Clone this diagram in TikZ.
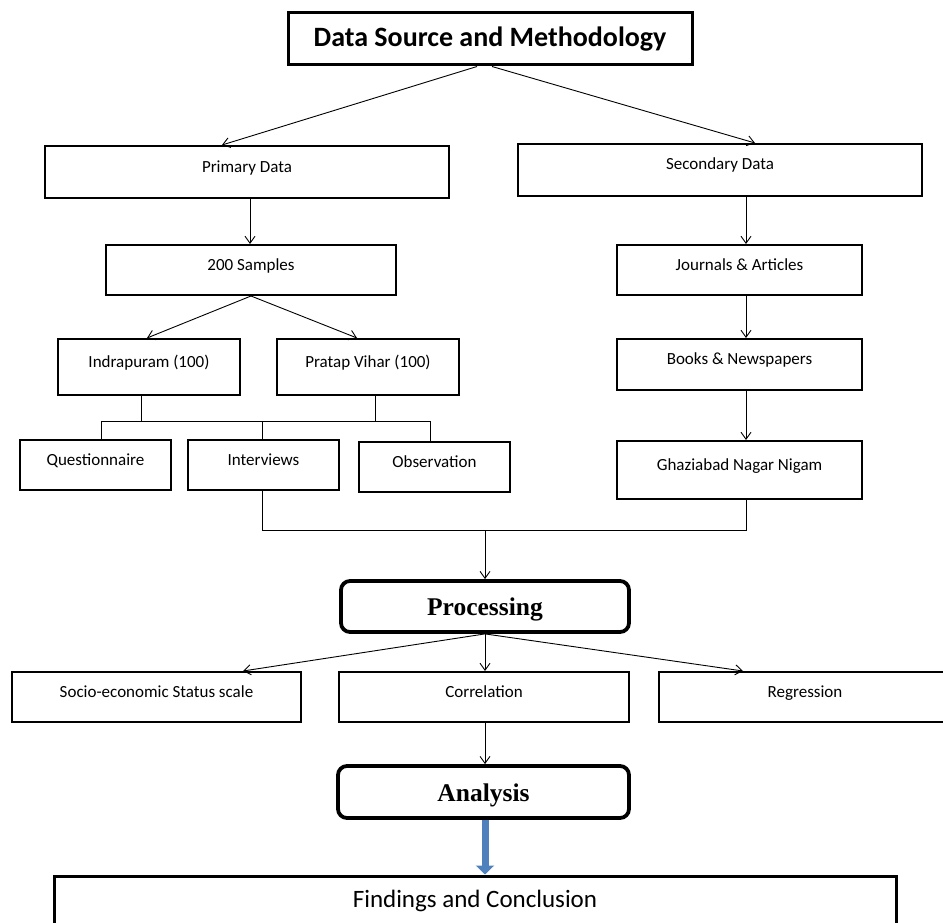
\documentclass[tikz,border=0pt]{standalone}
\usepackage{fontspec}
\setmainfont{Carlito}
\newfontfamily\timesbold{Liberation Serif}
\usepackage{tikz}
\usetikzlibrary{arrows.meta}
\definecolor{arrowblue}{RGB}{79,129,189}

\begin{document}
\begin{tikzpicture}[x=1pt,y=-1pt,
    >={Straight Barb[length=7pt,width=10pt]},
    every node/.style={font=\fontsize{17}{20}\selectfont,inner sep=3pt},
    box/.style={draw,line width=2pt,text height=12pt,text depth=12pt},
    head/.style={draw,line width=3pt,font=\fontsize{28}{32}\selectfont\bfseries},
    stage/.style={draw,line width=3.8pt,rounded corners=9pt,text height=19pt,text depth=1pt,
      font=\fontsize{25.5}{30}\selectfont\timesbold\bfseries},
    link/.style={line width=0.9pt}]
    \useasboundingbox (0,0) rectangle (943,923);
    \clip (0,0) rectangle (943,923);
    % top
    \node[head,minimum width=404pt,minimum height=52pt] (title) at (490,39) {Data Source and Methodology};
    \node[box,minimum width=404pt,minimum height=52pt] (primary) at (247,172) {Primary Data};
    \node[box,minimum width=404pt,minimum height=52pt] (secondary) at (720,170) {Secondary Data};
    % primary side
    \node[box,minimum width=290pt,minimum height=50pt] (samples) at (251,270) {200 Samples};
    \node[box,minimum width=182pt,minimum height=56pt] (indra) at (149,367) {Indrapuram (100)};
    \node[box,minimum width=182pt,minimum height=56pt] (pratap) at (368,367) {Pratap Vihar (100)};
    \node[box,minimum width=151pt,minimum height=50pt] (quest) at (95.5,465) {Questionnaire};
    \node[box,minimum width=151pt,minimum height=50pt] (interv) at (263.5,465) {Interviews};
    \node[box,minimum width=151pt,minimum height=50pt] (observ) at (434.5,467) {Observation};
    % secondary side
    \node[box,minimum width=245pt,minimum height=50pt] (journals) at (739.5,270) {Journals \& Articles};
    \node[box,minimum width=245pt,minimum height=51pt] (books) at (739.5,364.5) {Books \& Newspapers};
    \node[box,minimum width=245pt,minimum height=58pt] (ghazi) at (739.5,470) {Ghaziabad Nagar Nigam};
    % processing and after
    \node[stage,minimum width=288pt,minimum height=51pt] (proc) at (485,606.5) {Processing};
    \node[box,minimum width=289pt,minimum height=50pt] (socio) at (156.5,697) {Socio-economic Status scale};
    \node[box,minimum width=290pt,minimum height=50pt] (corr) at (484,697) {Correlation};
    \node[box,minimum width=292pt,minimum height=50pt] (regr) at (805,697) {Regression};
    \node[stage,minimum width=291pt,minimum height=52pt] (analysis) at (483.5,792) {Analysis};
    \node[box,line width=3pt,minimum width=842pt,minimum height=62pt,text height=16pt,text depth=16pt,
      font=\fontsize{25}{30}\selectfont] (findings) at (475,907) {Findings and Conclusion};

    \coordinate (rcol) at (746,0);
    \coordinate (split) at (0,421);
    \coordinate (merge) at (485,530);

    \draw[link,->] ([xshift=-13pt]title.south) -- ([xshift=-25pt]primary.north);
    \draw[link,->] ([xshift=2pt]title.south) -- ([xshift=35pt]secondary.north);
    \draw[link,->] ([xshift=3pt]primary.south) -- ([xshift=-1pt]samples.north);
    \draw[link,->] (secondary.south -| rcol) -- (journals.north -| rcol);
    \draw[link,->] (samples.south) -- ([xshift=-2pt]indra.north);
    \draw[link,->] (samples.south) -- ([xshift=-11pt]pratap.north);
    \draw[link,->] (journals.south -| rcol) -- (books.north -| rcol);
    \draw[link,->] (books.south -| rcol) -- (ghazi.north -| rcol);
    % split to methods
    \draw[link] ([xshift=-8pt]indra.south) -- ([xshift=-8pt]indra.south |- split);
    \draw[link] ([xshift=7pt]pratap.south) -- ([xshift=7pt]pratap.south |- split);
    \draw[link] ([xshift=5.5pt]quest.north) -- ([xshift=5.5pt]quest.north |- split)
      -- ([xshift=-4.5pt]observ.north |- split) -- ([xshift=-4.5pt]observ.north);
    \draw[link] ([xshift=-1.5pt]interv.north) -- ([xshift=-1.5pt]interv.north |- split);
    % merge to processing
    \draw[link] ([xshift=-1.5pt]interv.south) -- ([xshift=-1.5pt]interv.south |- merge)
      -- (merge -| rcol) -- (ghazi.south -| rcol);
    \draw[link,->] (merge) -- (proc.north);
    \draw[link,->] (proc.south) -- ([xshift=86.5pt]socio.north);
    \draw[link,->] (proc.south) -- ([xshift=1pt]corr.north);
    \draw[link,->] (proc.south) -- ([xshift=-62pt]regr.north);
    \draw[link,->] ([xshift=1pt]corr.south) -- ([xshift=1.5pt]analysis.north);
    \draw[arrowblue,line width=7pt,-{Triangle[length=9pt,width=18pt]}] ([xshift=1.5pt]analysis.south) -- ([xshift=10pt]findings.north);
\end{tikzpicture}
\end{document}
